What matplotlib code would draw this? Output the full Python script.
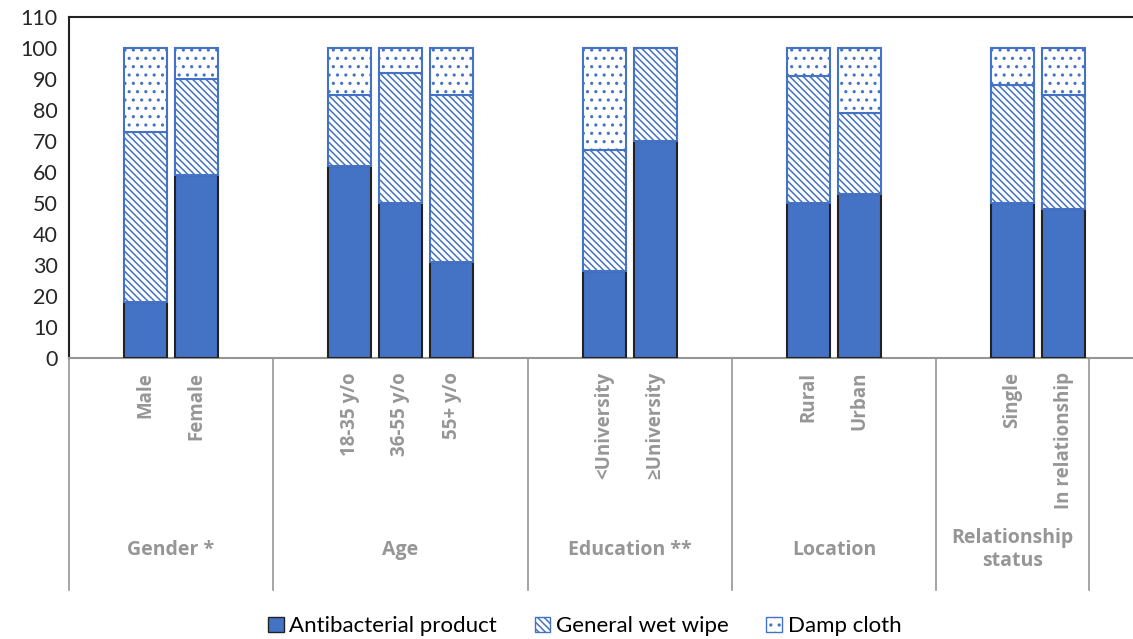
import matplotlib.pyplot as plt
from matplotlib.patches import Patch
import numpy as np

plt.rcParams['font.family'] = ['Lato', 'DejaVu Sans']
plt.rcParams['hatch.linewidth'] = 1.1

# groups and the categories inside each one
groups = ['Gender *', 'Age', 'Education **', 'Location', 'Relationship\nstatus']
group_cats = [['Male', 'Female'],
              ['18-35 y/o', '36-55 y/o', '55+ y/o'],
              ['<University', '\u2265University'],
              ['Rural', 'Urban'],
              ['Single', 'In relationship']]
# empty slots before/after the bars of each group
pad_before = [1, 1, 1, 1, 1]
pad_after = [1, 1, 1, 1, 0]

antibacterial = [18, 59, 62, 50, 31, 28, 70, 50, 53, 50, 48]
wet_wipe = [55, 31, 23, 42, 54, 39, 30, 41, 26, 38, 37]
damp_cloth = [27, 10, 15, 8, 15, 33, 0, 9, 21, 12, 15]

blue = '#4472C4'
grey = '#969696'
bold_font = ['Open Sans', 'DejaVu Sans']

# work out slot positions
xpos, labels, bounds, centers = [], [], [0], []
s = 0
for i, cats in enumerate(group_cats):
    start = s
    s += pad_before[i]
    for c in cats:
        xpos.append(s + 0.5)
        labels.append(c)
        s += 1
    s += pad_after[i]
    bounds.append(s)
    centers.append((start + s) / 2)
xpos = np.array(xpos)

fig = plt.figure(figsize=(11.33, 6.39), dpi=100)
ax = fig.add_axes([69/1133, 1-358/639, 1-69/1133, 341/639])

w = 0.86
ab = np.array(antibacterial)
ww = np.array(wet_wipe)
dc = np.array(damp_cloth)
ax.bar(xpos, ab, w, color=blue, edgecolor='#222222', linewidth=1.5, zorder=3)
ax.bar(xpos, ww, w, bottom=ab, color='white', edgecolor=blue, hatch='\\' * 5,
       linewidth=1.5, zorder=3)
ax.bar(xpos, dc, w, bottom=ab+ww, color='white', edgecolor=blue, hatch='..',
       linewidth=1.5, zorder=3)

ax.set_ylim(0, 110)
ax.set_yticks(range(0, 111, 10))
ax.set_xlim(0, 1064/51)
ax.tick_params(axis='y', length=0, labelsize=15.5, pad=8, labelcolor='#262626')

ax.spines['right'].set_visible(False)
for sp in ['left', 'top']:
    ax.spines[sp].set_color('#222222')
    ax.spines[sp].set_linewidth(1.5)
ax.spines['bottom'].set_color(grey)
ax.spines['bottom'].set_linewidth(1.5)

ax.set_xticks(xpos)
ax.set_xticklabels(labels, rotation=90, fontsize=13.5, fontweight='bold', color=grey,
                   family=bold_font)
ax.tick_params(axis='x', length=0, pad=10)

trans = ax.get_xaxis_transform()
for b in bounds:
    ax.plot([b, b], [0, -0.68], transform=trans, color=grey, lw=1.2, clip_on=False)
for c, g in zip(centers, groups):
    ax.text(c, -0.562, g, transform=trans, ha='center', va='center', fontsize=14,
            fontweight='bold', color=grey, linespacing=1.2, family=bold_font)

handles = [Patch(facecolor=blue, edgecolor='#222222', label='Antibacterial product'),
           Patch(facecolor='white', edgecolor=blue, hatch='\\' * 5, label='General wet wipe'),
           Patch(facecolor='white', edgecolor=blue, hatch='..', label='Damp cloth')]
fig.legend(handles=handles, loc='center', bbox_to_anchor=(0.516, 0.02), ncol=3,
           frameon=False, fontsize=16, handlelength=0.7, handleheight=0.7,
           handletextpad=0.25, columnspacing=1.7)

fig.savefig('out.png', dpi=100)
